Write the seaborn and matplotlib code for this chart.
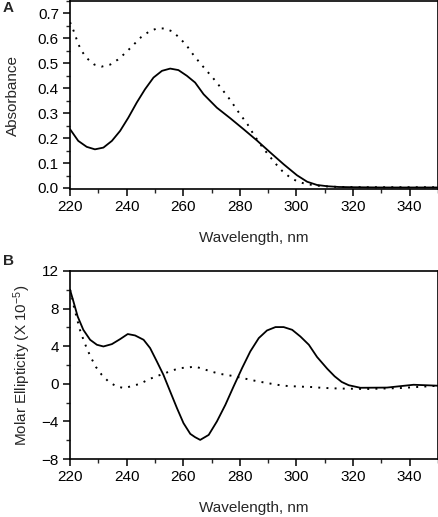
import numpy as np
import pandas as pd
import matplotlib
matplotlib.use("Agg")
import matplotlib.pyplot as plt
from matplotlib.ticker import MultipleLocator, FormatStrFormatter
import seaborn as sns

# --- Panel A : absorbance spectra (solid / dotted) ---
abs_solid_wl = [220, 222.9, 225.9, 228.8, 231.8, 234.8, 237.7, 240.6, 243.6, 246.5, 249.5,
                252.5, 255.4, 258.3, 261.3, 264.2, 267.2, 271.9, 276.6, 281.3, 286.1,
                290.8, 295.5, 300.2, 303.8, 307.3, 310.9, 315, 320, 330, 340, 350]
abs_solid = [0.236, 0.189, 0.165, 0.155, 0.162, 0.189, 0.229, 0.282, 0.343, 0.396, 0.443,
             0.47, 0.479, 0.473, 0.45, 0.423, 0.376, 0.322, 0.28, 0.236, 0.19,
             0.142, 0.095, 0.051, 0.025, 0.012, 0.007, 0.004, 0.003, 0.002, 0.002, 0.002]

abs_dot_wl = [220, 220.6, 221.8, 222.7, 223.9, 225.9, 228.6, 231.2, 234.2, 236.9, 239.7,
              242.4, 245.1, 248, 250.7, 253.4, 256.2, 258.9, 261.3, 263.4, 265.8, 268,
              270.4, 272.6, 274.8, 276.9, 278.8, 280.8, 282.7, 284.5, 286.4, 288.3,
              290.4, 292.6, 295, 297.9, 300.6, 303.4, 306.3, 309.1, 315, 325, 350]
abs_dot = [0.665, 0.651, 0.614, 0.584, 0.553, 0.521, 0.495, 0.487, 0.495, 0.515, 0.543,
           0.574, 0.605, 0.628, 0.64, 0.64, 0.628, 0.6, 0.57, 0.537, 0.503, 0.474,
           0.443, 0.412, 0.38, 0.349, 0.316, 0.285, 0.256, 0.222, 0.189, 0.159,
           0.129, 0.098, 0.068, 0.041, 0.025, 0.016, 0.011, 0.007, 0.004, 0.003, 0.003]

# --- Panel B : CD spectra (solid / dotted), units of 10^5 ---
cd_solid_wl = [220, 221.2, 222.7, 224.7, 227.1, 229.5, 231.8, 234.8, 237.7, 240.4, 243,
               246, 248.3, 250.7, 253, 255.4, 257.8, 260.1, 262.5, 264.2, 266, 269,
               271.9, 274.9, 277.8, 280.8, 283.7, 286.7, 289.6, 292.6, 295.5, 298.5,
               301.4, 304.4, 307.3, 310.9, 313.5, 316, 318.5, 322.6, 332, 341.4, 350]
cd_solid = [10.0, 8.76, 7.16, 5.74, 4.68, 4.15, 3.97, 4.22, 4.75, 5.29, 5.14,
            4.68, 3.8, 2.37, 0.96, -0.82, -2.59, -4.18, -5.32, -5.67, -5.96, -5.43,
            -4.0, -2.23, -0.28, 1.67, 3.44, 4.86, 5.67, 6.03, 6.03, 5.74,
            5.03, 4.15, 2.85, 1.6, 0.8, 0.2, -0.15, -0.42, -0.4, -0.1, -0.2]

cd_dot_wl = [220, 220.4, 221.2, 222.4, 223.5, 225.1, 226.3, 227.7, 229.2, 231.2, 233.8,
             236.5, 239.2, 242.1, 244.8, 247.5, 250.3, 253, 256, 258.9, 261.9, 264.2,
             267.2, 269.9, 272.9, 275.7, 278.4, 281.1, 283.7, 286.7, 289.4, 292, 294.9,
             297.6, 300.5, 303.2, 306.1, 309.1, 315, 325, 336.8, 350]
cd_dot = [10.0, 9.65, 8.4, 6.99, 5.74, 4.39, 3.51, 2.62, 1.77, 0.96, 0.18,
          -0.28, -0.46, -0.21, 0.0, 0.43, 0.78, 1.06, 1.41, 1.67, 1.74, 1.84,
          1.56, 1.31, 1.06, 0.93, 0.78, 0.6, 0.43, 0.24, 0.1, -0.04, -0.18,
          -0.25, -0.28, -0.32, -0.35, -0.43, -0.5, -0.55, -0.45, -0.2]

sns.set_style("ticks")
plt.rcParams["font.family"] = ["Liberation Sans", "DejaVu Sans"]
plt.rcParams["mathtext.default"] = "regular"

fig = plt.figure(figsize=(4.39, 5.17), dpi=100)
axA = fig.add_axes([0.1595, 0.634, 0.838, 0.364])
axB = fig.add_axes([0.1595, 0.112, 0.838, 0.364])

dotted = (0, (1, 3.2))

sns.lineplot(x=abs_solid_wl, y=abs_solid, ax=axA, color="black", lw=1.3)
sns.lineplot(x=abs_dot_wl, y=abs_dot, ax=axA, color="black", lw=1.4, linestyle=dotted)
sns.lineplot(x=cd_solid_wl, y=cd_solid, ax=axB, color="black", lw=1.3)
sns.lineplot(x=cd_dot_wl, y=cd_dot, ax=axB, color="black", lw=1.4, linestyle=dotted)

for ax in (axA, axB):
    ax.set_xlim(220, 350)
    ax.xaxis.set_major_locator(MultipleLocator(20))
    ax.xaxis.set_minor_locator(MultipleLocator(10))
    for s in ax.spines.values():
        s.set_linewidth(1.2)
        s.set_color("black")
    ax.tick_params(which="major", direction="out", length=5, width=1.1,
                   labelsize=11, colors="black", pad=3)
    ax.tick_params(which="minor", direction="out", length=3, width=1.0)
    ax.tick_params(top=False, right=False, which="both")
    ax.set_xlabel("Wavelength, nm", fontsize=11, labelpad=12)
    for line in ax.get_lines():
        line.set_solid_joinstyle("round")

axA.set_ylim(-0.005, 0.75)
axA.yaxis.set_major_locator(MultipleLocator(0.1))
axA.yaxis.set_minor_locator(MultipleLocator(0.05))
axA.yaxis.set_major_formatter(FormatStrFormatter("%.1f"))
axA.set_ylabel("Absorbance", fontsize=11, labelpad=13)

axB.set_ylim(-8, 12)
axB.yaxis.set_major_locator(MultipleLocator(4))
axB.yaxis.set_minor_locator(MultipleLocator(2))
axB.set_ylabel("Molar Ellipticity (X 10$^{-5}$)", fontsize=11, labelpad=6)

fig.text(0.007, 0.984, "A", fontsize=11, fontweight="bold", va="center")
fig.text(0.007, 0.495, "B", fontsize=11, fontweight="bold", va="center")

fig.savefig("out.png", dpi=100)
